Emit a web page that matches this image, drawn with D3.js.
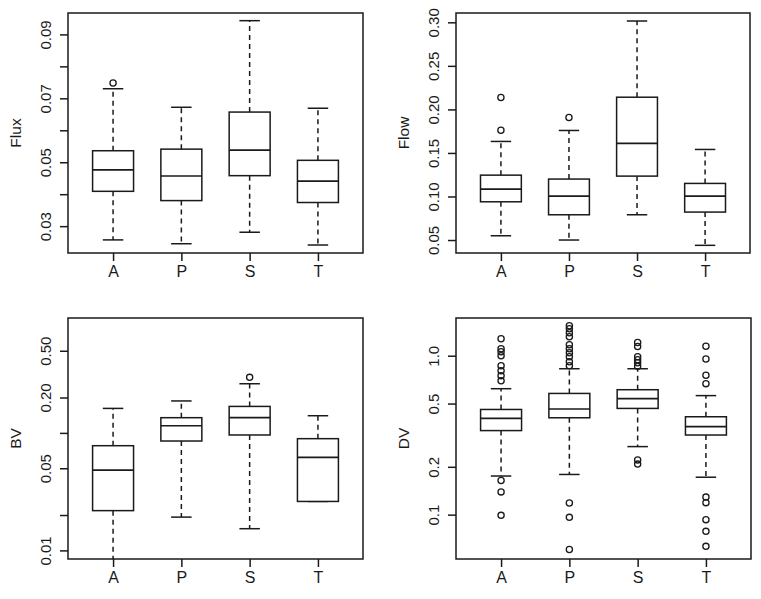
<!DOCTYPE html>
<html><head><meta charset="utf-8">
<script src="https://cdn.jsdelivr.net/npm/d3@7"></script>
<style>body{margin:0;background:#fff}svg{display:block}</style>
</head><body>
<script>
// ---------- data ----------
const categories = ["A", "P", "S", "T"];

// [lower whisker, Q1, median, Q3, upper whisker]
const fluxStats = [[0.0257, 0.0409, 0.0476, 0.0536, 0.0730],
                   [0.0245, 0.0380, 0.0457, 0.0541, 0.0672],
                   [0.0281, 0.0458, 0.0538, 0.0657, 0.0943],
                   [0.0241, 0.0374, 0.0441, 0.0506, 0.0669]];
const fluxOutliers = [[0.0748], [], [], []];
const fluxTicks = [0.03, 0.04, 0.05, 0.06, 0.07, 0.08, 0.09];
const fluxTickLabels = ["0.03", "", "0.05", "", "0.07", "", "0.09"];
const fluxLimits = [0.0216, 0.0967];

const flowStats = [[0.0549, 0.0939, 0.1085, 0.1245, 0.1632],
                   [0.0500, 0.0790, 0.1005, 0.1200, 0.1758],
                   [0.0790, 0.1234, 0.1609, 0.2140, 0.3015],
                   [0.0439, 0.0821, 0.1005, 0.1150, 0.1540]];
const flowOutliers = [[0.2136, 0.1761], [0.1907], [], []];
const flowTicks = [0.05, 0.10, 0.15, 0.20, 0.25, 0.30];
const flowTickLabels = ["0.05", "0.10", "0.15", "0.20", "0.25", "0.30"];
const flowLimits = [0.0351, 0.3107];

const bvStats = [[0.0070, 0.0218, 0.0483, 0.0778, 0.1616],
                 [0.0192, 0.0853, 0.1150, 0.1347, 0.1870],
                 [0.0153, 0.0960, 0.1347, 0.1680, 0.2620],
                 [0.0261, 0.0261, 0.0619, 0.0893, 0.1400]];
const bvOutliers = [[], [], [0.297], []];
const bvTicks = [0.01, 0.02, 0.05, 0.1, 0.2, 0.5];
const bvTickLabels = ["0.01", "", "0.05", "", "0.20", "0.50"];
const bvLimits = [0.00845, 0.95];

const dvStats = [[0.175, 0.338, 0.403, 0.459, 0.620],
                 [0.179, 0.407, 0.462, 0.579, 0.828],
                 [0.268, 0.466, 0.537, 0.611, 0.828],
                 [0.172, 0.317, 0.358, 0.413, 0.561]];
const dvOutliers = [[1.279, 1.107, 1.06, 1.0, 0.865, 0.805, 0.749, 0.696, 0.164, 0.139, 0.099],
                    [1.545, 1.479, 1.396, 1.316, 1.173, 1.107, 1.045, 0.986, 0.917, 0.865, 0.1185, 0.0962, 0.0603],
                    [1.212, 1.144, 0.986, 0.944, 0.903, 0.857, 0.221, 0.208],
                    [1.148, 0.953, 0.754, 0.667, 0.129, 0.119, 0.093, 0.0785, 0.0632]];
const dvTicks = [0.1, 0.2, 0.5, 1.0];
const dvTickLabels = ["0.1", "0.2", "0.5", "1.0"];
const dvLimits = [0.0526, 1.727];

// ---------- layout ----------
const W = 761, H = 599;
const FONT = "'Liberation Sans', Arial, Helvetica, sans-serif";
const svg = d3.select("body").append("svg").attr("width", W).attr("height", H);

const panels = [
  {title: "Flux", stats: fluxStats, out: fluxOutliers, ticks: fluxTicks, labels: fluxTickLabels, lim: fluxLimits, log: false, x0: 68, x1: 363, y0: 13, y1: 253},
  {title: "Flow", stats: flowStats, out: flowOutliers, ticks: flowTicks, labels: flowTickLabels, lim: flowLimits, log: false, x0: 456, x1: 750, y0: 13, y1: 253},
  {title: "BV", stats: bvStats, out: bvOutliers, ticks: bvTicks, labels: bvTickLabels, lim: bvLimits, log: true, x0: 68, x1: 363, y0: 318, y1: 559},
  {title: "DV", stats: dvStats, out: dvOutliers, ticks: dvTicks, labels: dvTickLabels, lim: dvLimits, log: true, x0: 456, x1: 751, y0: 318, y1: 559}
];

const LW = 1.5;
const INK = "#1a1a1a";
panels.forEach((p, pi) => {
  const g = svg.append("g");
  const x = d3.scaleLinear().domain([0.34, 4.66]).range([p.x0, p.x1]);
  const y = (p.log ? d3.scaleLog() : d3.scaleLinear()).domain(p.lim).range([p.y1, p.y0]);
  const unit = x(2) - x(1);
  const bw = 0.6 * unit;
  const cw = 0.3 * unit;

  const clipId = "clip" + pi;
  g.append("clipPath").attr("id", clipId).append("rect")
    .attr("x", p.x0).attr("y", p.y0).attr("width", p.x1 - p.x0).attr("height", p.y1 - p.y0);
  const plot = g.append("g").attr("clip-path", `url(#${clipId})`);

  categories.forEach((c, i) => {
    const s = p.stats[i];
    const cx = x(i + 1);
    plot.append("line").attr("x1", cx).attr("x2", cx).attr("y1", y(s[3])).attr("y2", y(s[4]))
      .attr("stroke", INK).attr("stroke-width", LW).attr("stroke-dasharray", "5,4");
    plot.append("line").attr("x1", cx).attr("x2", cx).attr("y1", y(s[1])).attr("y2", y(s[0]))
      .attr("stroke", INK).attr("stroke-width", LW).attr("stroke-dasharray", "5,4");
    [s[0], s[4]].forEach(v => {
      plot.append("line").attr("x1", cx - cw / 2).attr("x2", cx + cw / 2).attr("y1", y(v)).attr("y2", y(v))
        .attr("stroke", INK).attr("stroke-width", LW);
    });
    plot.append("rect").attr("x", cx - bw / 2).attr("width", bw)
      .attr("y", y(s[3])).attr("height", y(s[1]) - y(s[3]))
      .attr("fill", "#fff").attr("stroke", INK).attr("stroke-width", LW);
    plot.append("line").attr("x1", cx - bw / 2).attr("x2", cx + bw / 2).attr("y1", y(s[2])).attr("y2", y(s[2]))
      .attr("stroke", INK).attr("stroke-width", LW + 0.2);
    plot.selectAll(null).data(p.out[i]).enter().append("circle")
      .attr("cx", cx).attr("cy", d => y(d)).attr("r", 3.1)
      .attr("fill", "none").attr("stroke", INK).attr("stroke-width", 1.3);
  });

  g.append("rect").attr("x", p.x0).attr("y", p.y0).attr("width", p.x1 - p.x0).attr("height", p.y1 - p.y0)
    .attr("fill", "none").attr("stroke", INK).attr("stroke-width", LW);

  const xa = g.append("g").attr("transform", `translate(0,${p.y1})`)
    .call(d3.axisBottom(x).tickValues([1, 2, 3, 4]).tickFormat(d => categories[d - 1]).tickSize(8).tickPadding(5));
  xa.select(".domain").remove();
  xa.selectAll("line").attr("stroke", INK).attr("stroke-width", LW);
  xa.selectAll("text").attr("font-family", FONT).attr("font-size", 16).attr("fill", INK);

  const ya = g.append("g").attr("transform", `translate(${p.x0},0)`)
    .call(d3.axisLeft(y).tickValues(p.ticks).tickFormat((d, k) => p.labels[k]).tickSize(8));
  ya.select(".domain").remove();
  ya.selectAll("line").attr("stroke", INK).attr("stroke-width", LW);
  ya.selectAll("text")
    .attr("font-family", FONT).attr("font-size", 15).attr("fill", INK)
    .attr("x", null).attr("dy", null)
    .attr("text-anchor", "middle")
    .attr("transform", "translate(-17,0) rotate(-90)");

  g.append("text")
    .attr("transform", `translate(${p.x0 - 47},${(p.y0 + p.y1) / 2}) rotate(-90)`)
    .attr("text-anchor", "middle").attr("font-family", FONT).attr("font-size", 15.5).attr("fill", INK)
    .text(p.title);
});
</script>
</body></html>
